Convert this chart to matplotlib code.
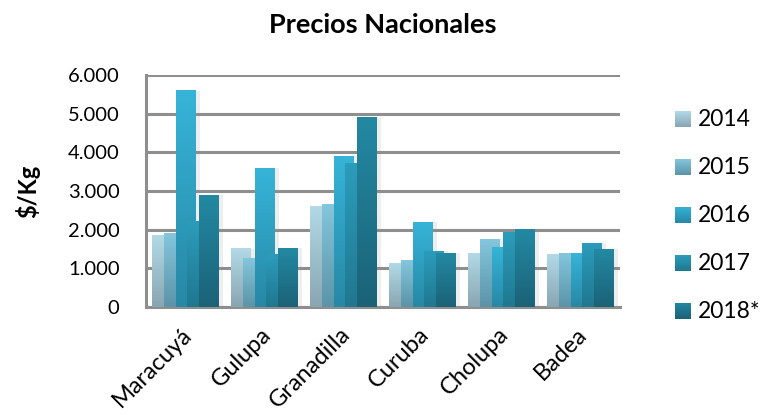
import numpy as np
import matplotlib
matplotlib.use('Agg')
import matplotlib.pyplot as plt
import matplotlib.patheffects as pe
import matplotlib.transforms as mtransforms
from matplotlib.colors import LinearSegmentedColormap
from matplotlib.patches import Rectangle
from matplotlib.ticker import FuncFormatter, MultipleLocator

plt.rcParams['font.family'] = ['Lato', 'DejaVu Sans']

# Datos
frutas = ['Maracuyá', 'Gulupa', 'Granadilla', 'Curuba', 'Cholupa', 'Badea']
anios = ['2014', '2015', '2016', '2017', '2018*']
p2014 = [1860, 1510, 2610, 1130, 1390, 1365]
p2015 = [1910, 1260, 2660, 1210, 1750, 1390]
p2016 = [5590, 3590, 3900, 2190, 1550, 1390]
p2017 = [2220, 1365, 3720, 1440, 1935, 1650]
p2018 = [2895, 1520, 4890, 1390, 2005, 1495]
series = [p2014, p2015, p2016, p2017, p2018]

# colores (arriba, abajo) de cada serie
colores = [('#b3d9e6', '#88a6b2'),
           ('#84c6dc', '#5b94a8'),
           ('#36b4d8', '#2788a5'),
           ('#2c9cbb', '#1f7890'),
           ('#2389a3', '#1b6277')]

fig = plt.figure(figsize=(7.63, 4.15), dpi=100, facecolor='white')
ax = fig.add_axes([146/763, 1-307/415, 474/763, 232/415])

x = np.arange(len(frutas))
ancho = 0.253
paso = 0.147
inicio = -(4*paso + ancho)/2
grad = np.linspace(0, 1, 64).reshape(-1, 1)

for i, (vals, (c_top, c_bot)) in enumerate(zip(series, colores)):
    cmap = LinearSegmentedColormap.from_list('g%d' % i, [c_bot, c_top])
    for j, v in enumerate(vals):
        x0 = x[j] + inicio + i*paso
        r = Rectangle((x0, 0), ancho, v, facecolor=c_bot, edgecolor='none',
                      zorder=3 + 2*i)
        r.set_path_effects([pe.SimplePatchShadow(offset=(3, 0), shadow_rgbFace='#909090',
                                                 alpha=0.15), pe.Normal()])
        ax.add_patch(r)
        ax.imshow(grad, cmap=cmap, origin='lower', aspect='auto',
                  extent=(x0, x0 + ancho, 0, v), zorder=4 + 2*i,
                  interpolation='bilinear')

ax.set_xlim(-0.5, len(frutas) - 0.5)
ax.set_ylim(0, 6000)
ax.yaxis.set_major_locator(MultipleLocator(1000))
ax.yaxis.set_major_formatter(FuncFormatter(lambda v, p: '{:,}'.format(int(v)).replace(',', '.')))
ax.grid(axis='y', color='#8e8e8e', linewidth=2.2, zorder=1)
ax.set_axisbelow(True)
for s in ['top', 'right']:
    ax.spines[s].set_visible(False)
for s in ['left', 'bottom']:
    ax.spines[s].set_color('#8e8e8e')
    ax.spines[s].set_linewidth(2.2)
ax.tick_params(axis='y', length=0, pad=19, labelsize=14.5)
ax.tick_params(axis='x', length=0, pad=12, labelsize=17)
ax.set_xticks(x)
ax.set_xticklabels(frutas, rotation=45, ha='right', rotation_mode='anchor')
desplaza = mtransforms.ScaledTranslation(-4/100, 0, fig.dpi_scale_trans)
for lab in ax.get_xticklabels():
    lab.set_transform(lab.get_transform() + desplaza)

ax.set_ylabel('$/Kg', fontsize=17, fontweight='bold', labelpad=20)
fig.text(383/763, 1-25/415, 'Precios Nacionales', ha='center', va='center',
         fontsize=19.5, fontweight='bold')

# leyenda manual
for i, (a, (c_top, c_bot)) in enumerate(zip(anios, colores)):
    yc = 1 - (119 + 48*i)/415
    cax = fig.add_axes([675/763, yc - 8/415, 16/763, 16/415])
    cmap = LinearSegmentedColormap.from_list('l%d' % i, [c_bot, c_top])
    cax.imshow(grad, cmap=cmap, origin='lower', aspect='auto', interpolation='bilinear')
    cax.axis('off')
    fig.text(698/763, yc, a, ha='left', va='center', fontsize=16.5)

plt.savefig('out.png', dpi=100)
